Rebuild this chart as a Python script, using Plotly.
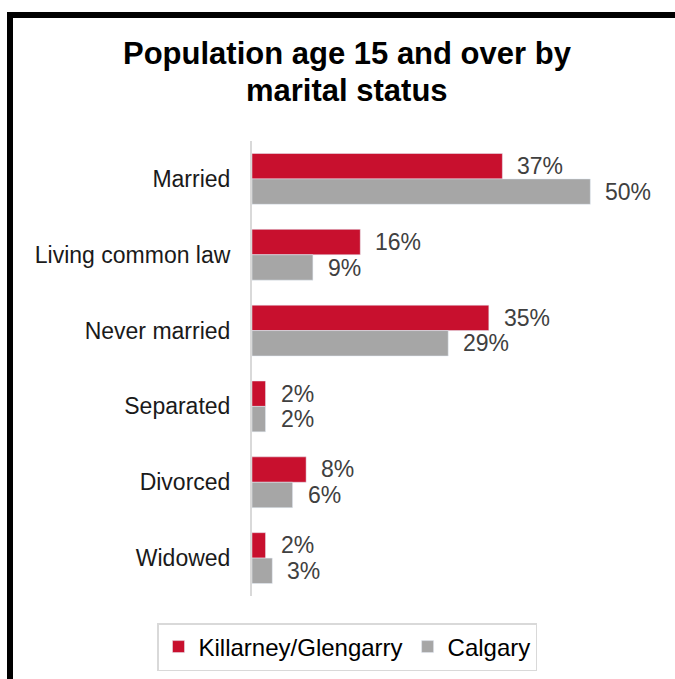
import plotly.graph_objects as go

categories = ["Married", "Living common law", "Never married", "Separated", "Divorced", "Widowed"]
killarney = [37, 16, 35, 2, 8, 2]
calgary = [50, 9, 29, 2, 6, 3]
series_names = ["Killarney/Glengarry", "Calgary"]

RED = "#C8102E"
GREY = "#A6A6A6"
LABEL = "#404040"
FONT = "Liberation Sans, Arial, sans-serif"

W, H = 675, 679
ML, MR, MT, MB = 252, 17, 141, 83
XMAX = 60

pw = W - ML - MR
ph = H - MT - MB


def px_x(x):
    return (x - ML) / pw


def px_y(y):
    return 1 + (MT - y) / ph


fig = go.Figure()
fig.add_trace(go.Bar(y=categories, x=killarney, name=series_names[0], orientation="h",
                     marker=dict(color=RED), offsetgroup="a"))
fig.add_trace(go.Bar(y=categories, x=calgary, name=series_names[1], orientation="h",
                     marker=dict(color=GREY), offsetgroup="b"))

# value labels beside each bar
annotations = []
for vals, shift in ((killarney, -0.17), (calgary, 0.17)):
    for i, (cat, v) in enumerate(zip(categories, vals)):
        annotations.append(dict(
            x=v, y=i + shift, xref="x", yref="y", text=f"{v}%",
            showarrow=False, xanchor="left", yanchor="middle", xshift=13,
            font=dict(family=FONT, size=23, color=LABEL)))

# two-line title
for text, ypx in (("<b>Population age 15 and over by</b>", 53), ("<b>marital status</b>", 91)):
    annotations.append(dict(
        x=px_x(347), y=px_y(ypx), xref="paper", yref="paper", showarrow=False,
        text=text, xanchor="center", yanchor="middle",
        font=dict(family=FONT, size=31, color="#000000")))

fig.update_layout(
    width=W, height=H,
    margin=dict(l=ML, r=MR, t=MT, b=MB, autoexpand=False),
    paper_bgcolor="white", plot_bgcolor="white",
    barmode="group", bargap=0.33, bargroupgap=0,
    font=dict(family=FONT, color="#1a1a1a"),
    xaxis=dict(range=[0, XMAX], visible=False, fixedrange=True),
    yaxis=dict(categoryorder="array", categoryarray=categories, autorange="reversed",
               showline=True, linecolor="#d9d9d9", linewidth=2, ticks="",
               tickfont=dict(family=FONT, size=23, color="#1a1a1a"),
               ticklabelstandoff=15, showgrid=False, zeroline=False, automargin=False),
    showlegend=True,
    legend=dict(orientation="h", xref="container", yref="container",
                x=347 / W, xanchor="center", y=1 - 647 / H, yanchor="middle",
                bordercolor="#d9d9d9", borderwidth=1.5,
                font=dict(family=FONT, size=24, color="#000000"),
                itemwidth=30, traceorder="normal"),
    annotations=annotations,
    shapes=[dict(type="rect", xref="paper", yref="paper",
                 x0=px_x(10), x1=px_x(700), y0=px_y(15), y1=px_y(720),
                 line=dict(color="black", width=6), fillcolor="rgba(0,0,0,0)", layer="above")],
)

fig.write_html("out.html")
